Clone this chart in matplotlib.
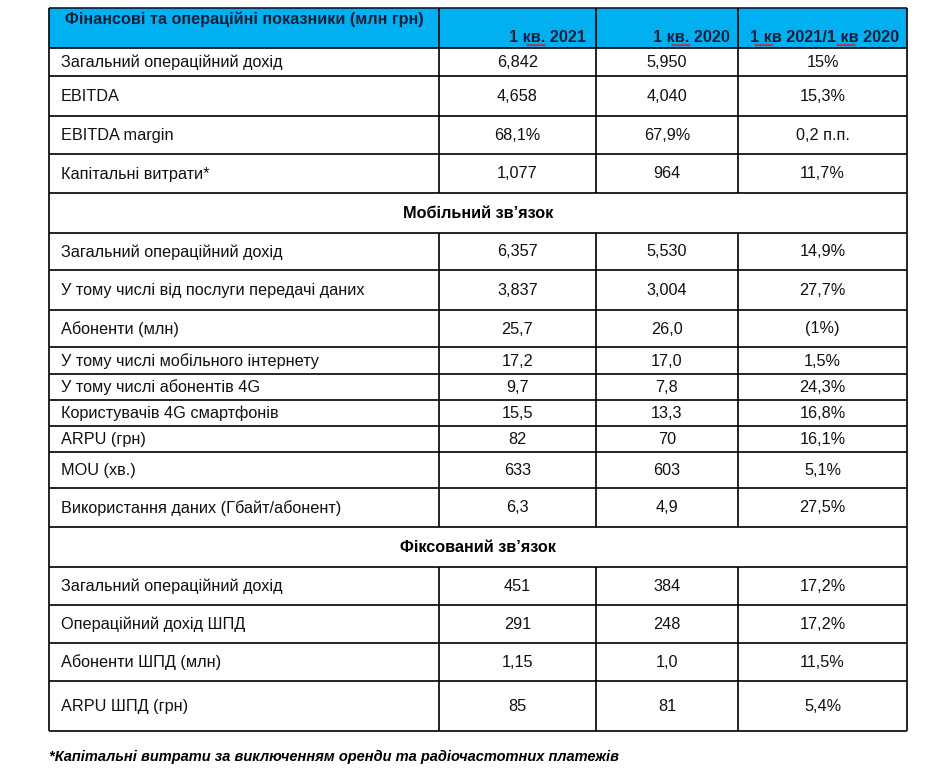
import numpy as np
import matplotlib.pyplot as plt

# table content
header = ["Фінансові та операційні показники (млн грн)", "1 кв. 2021", "1 кв. 2020", "1 кв 2021/1 кв 2020"]

labels = ["Загальний операційний дохід", "EBITDA", "EBITDA margin", "Капітальні витрати*",
          "Мобільний зв’язок",
          "Загальний операційний дохід", "У тому числі від послуги передачі даних", "Абоненти (млн)",
          "У тому числі мобільного інтернету", "У тому числі абонентів 4G", "Користувачів 4G смартфонів",
          "ARPU (грн)", "MOU (хв.)", "Використання даних (Гбайт/абонент)",
          "Фіксований зв’язок",
          "Загальний операційний дохід", "Операційний дохід ШПД", "Абоненти ШПД (млн)", "ARPU ШПД (грн)"]
q1_2021 = ["6,842", "4,658", "68,1%", "1,077", None,
           "6,357", "3,837", "25,7", "17,2", "9,7", "15,5", "82", "633", "6,3", None,
           "451", "291", "1,15", "85"]
q1_2020 = ["5,950", "4,040", "67,9%", "964", None,
           "5,530", "3,004", "26,0", "17,0", "7,8", "13,3", "70", "603", "4,9", None,
           "384", "248", "1,0", "81"]
change = ["15%", "15,3%", "0,2 п.п.", "11,7%", None,
          "14,9%", "27,7%", "(1%)", "1,5%", "24,3%", "16,8%", "16,1%", "5,1%", "27,5%", None,
          "17,2%", "17,2%", "11,5%", "5,4%"]
footnote = "*Капітальні витрати за виключенням оренди та радіочастотних платежів"

# layout in pixels
col_x = [49, 439, 596, 738, 907]
row_y = [8, 48, 76, 116, 154, 193, 233, 270, 310, 347, 374, 400, 426, 452, 488, 527,
         567, 605, 643, 681, 731]

fig = plt.figure(figsize=(9.34, 7.74), dpi=100)
ax = fig.add_axes([0, 0, 1, 1])
ax.set_xlim(0, 934)
ax.set_ylim(774, 0)
ax.axis('off')

fs = 11.7
font = 'Liberation Sans'
navy = '#14213d'

# header
ax.fill_between([col_x[0], col_x[-1]], row_y[0], row_y[1], color='#00b0f0', lw=0)
ax.text((col_x[0] + col_x[1]) / 2, 19, header[0], ha='center', va='center',
        fontsize=fs, fontweight='bold', color=navy, family=font)
ax.text(col_x[2] - 10, 37, header[1], ha='right', va='center', fontsize=fs,
        fontweight='bold', color=navy, family=font)
ax.text(col_x[3] - 8, 37, header[2], ha='right', va='center', fontsize=fs,
        fontweight='bold', color=navy, family=font)
ax.text(col_x[4] - 8, 37, header[3], ha='right', va='center', fontsize=fs,
        fontweight='bold', color=navy, family=font)

# spell-check squiggles under "кв"
for x0 in [527, 672, 755, 837]:
    xs = np.linspace(x0, x0 + 18, 19)
    ax.plot(xs, 44.5 + 1.2 * (np.arange(19) % 2), color='#d02020', lw=0.8)

# body
for i, lab in enumerate(labels):
    y0, y1 = row_y[i + 1], row_y[i + 2]
    yc = (y0 + y1) / 2 + 0.5
    if q1_2021[i] is None:
        ax.text((col_x[0] + col_x[-1]) / 2, yc, lab, ha='center', va='center',
                fontsize=fs, fontweight='bold', color='black', family=font)
        continue
    ax.text(col_x[0] + 12, yc, lab, ha='left', va='center', fontsize=fs, color='#111111', family=font)
    for j, v in enumerate([q1_2021[i], q1_2020[i], change[i]]):
        ax.text((col_x[j + 1] + col_x[j + 2]) / 2, yc, v, ha='center', va='center',
                fontsize=fs, color='#111111', family=font)

# grid lines
ax.hlines(row_y[1:], col_x[0], col_x[-1], color='black', lw=1.2)
ax.hlines(row_y[0], col_x[0], col_x[-1], color='#0a1a30', lw=1.2)
ax.vlines([col_x[0], col_x[-1]], row_y[0], row_y[-1], color='black', lw=1.2)
sec = [i for i, v in enumerate(q1_2021) if v is None]
for k in range(1, 4):
    start = row_y[0]
    for s in sec:
        ax.vlines(col_x[k], start, row_y[s + 1], color='black', lw=1.2)
        start = row_y[s + 2]
    ax.vlines(col_x[k], start, row_y[-1], color='black', lw=1.2)

ax.text(col_x[0], 757, footnote, ha='left', va='center', fontsize=10.5,
        fontweight='bold', style='italic', color='black', family=font)

fig.savefig('out.png', dpi=100)
